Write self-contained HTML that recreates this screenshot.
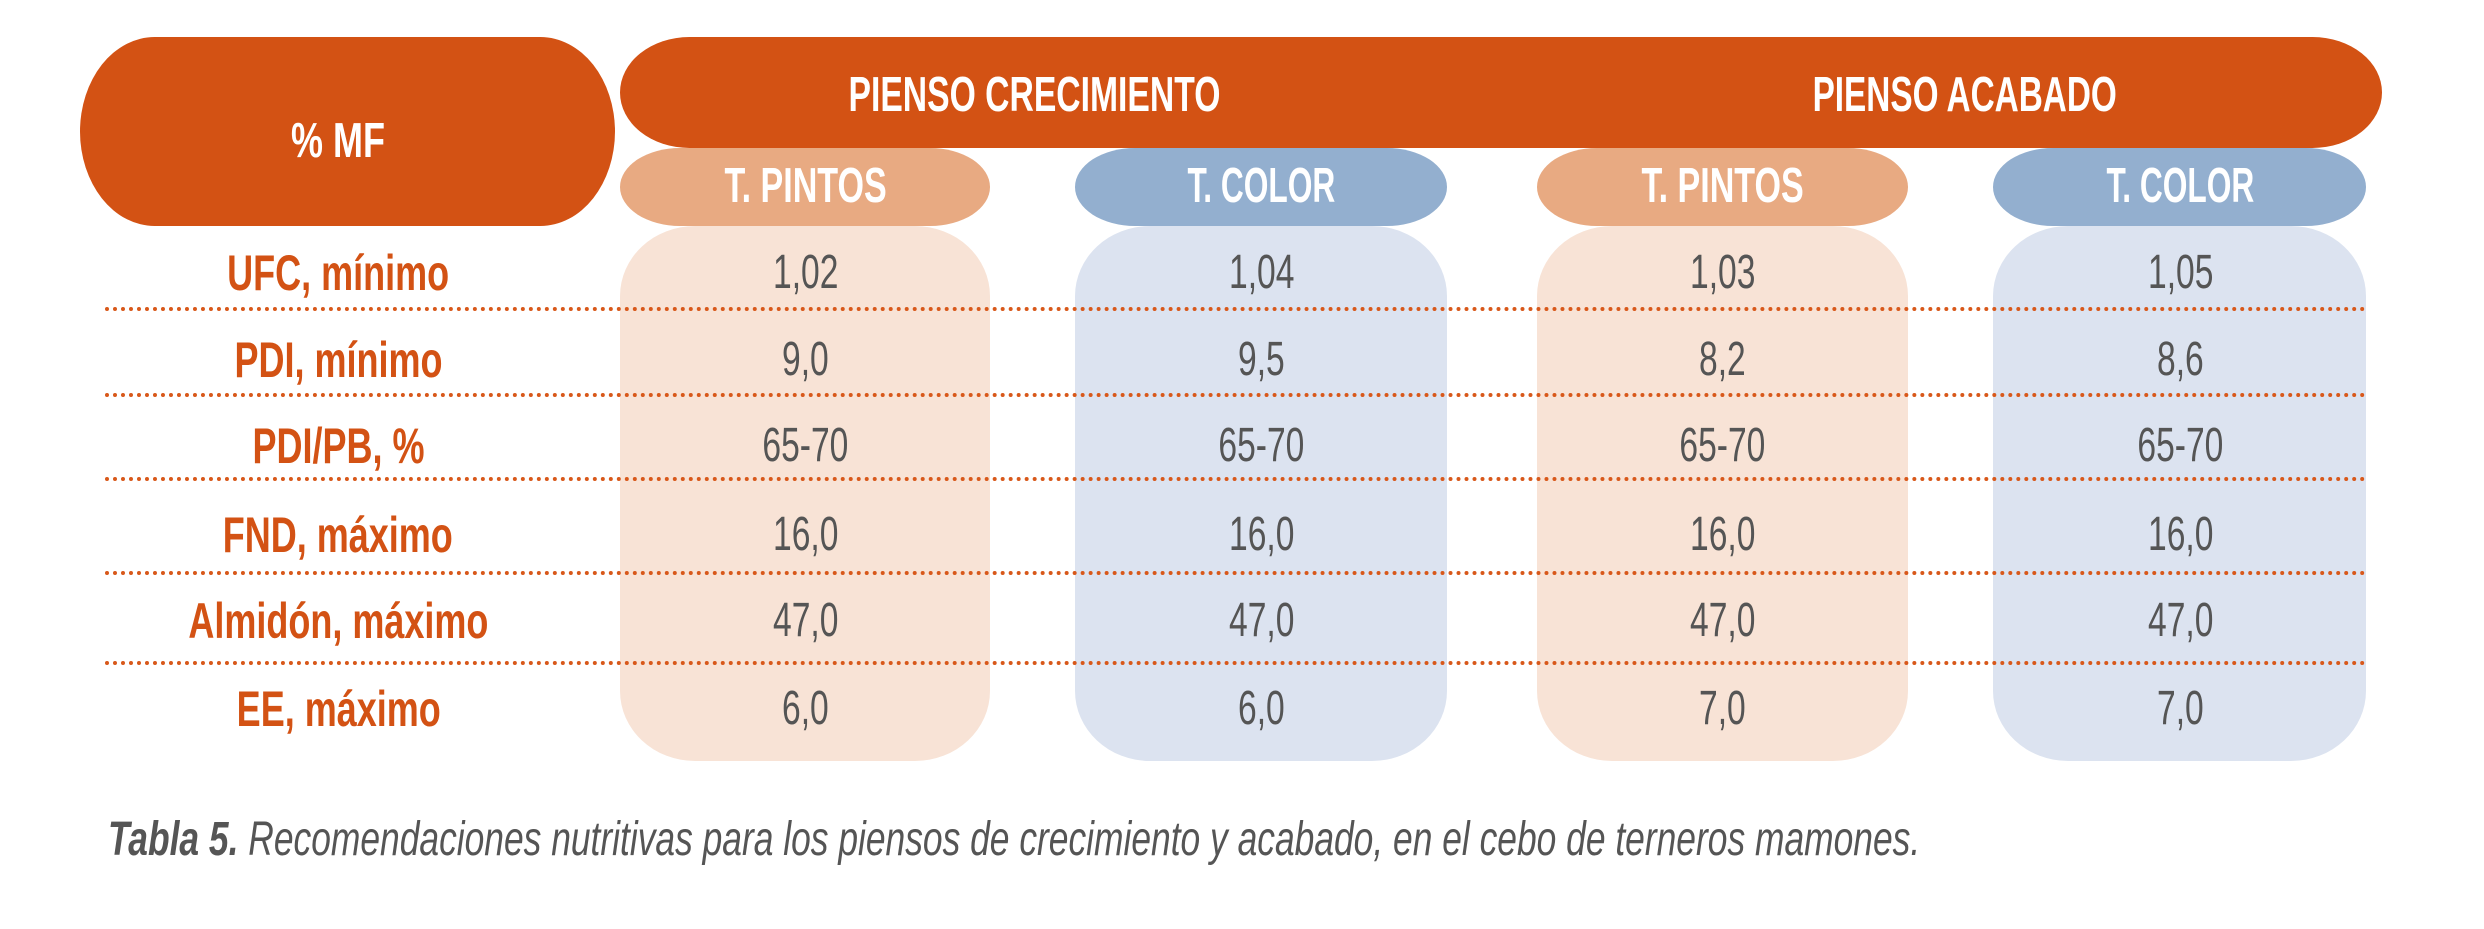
<!DOCTYPE html>
<html><head><meta charset="utf-8"><style>
html,body{margin:0;padding:0;background:#fff}
#root{position:relative;width:2484px;height:929px;overflow:hidden;font-family:"Liberation Sans",sans-serif}
.b{position:absolute}
.t{position:absolute;white-space:nowrap;line-height:1;transform-origin:center center}
.h{color:#fff;font-weight:bold;font-size:49px}
.l{color:#D35214;font-weight:bold;font-size:50px}
.v{color:#555;font-size:48px}
.dot{position:absolute;left:105px;width:2262px;height:0;border-top:4px dotted #D8581A}
</style></head><body>
<div id="root">
<div class="b" style="left:80px;top:37px;width:535px;height:189px;background:#D35214;border-radius:75px/95px"></div>
<div class="b" style="left:620px;top:37px;width:1762px;height:111px;background:#D35214;border-radius:70px/56px"></div>

<div class="b" style="left:620px;top:148px;width:370px;height:78px;background:#E8AA82;border-radius:60px/39px"></div>
<div class="b" style="left:1075px;top:148px;width:372px;height:78px;background:#93AFCF;border-radius:60px/39px"></div>
<div class="b" style="left:1537px;top:148px;width:371px;height:78px;background:#E8AA82;border-radius:60px/39px"></div>
<div class="b" style="left:1993px;top:148px;width:373px;height:78px;background:#93AFCF;border-radius:60px/39px"></div>

<div class="b" style="left:620px;top:226px;width:370px;height:535px;background:#F8E3D6;border-radius:75px/70px"></div>
<div class="b" style="left:1075px;top:226px;width:372px;height:535px;background:#DCE3F0;border-radius:75px/70px"></div>
<div class="b" style="left:1537px;top:226px;width:371px;height:535px;background:#F8E3D6;border-radius:75px/70px"></div>
<div class="b" style="left:1993px;top:226px;width:373px;height:535px;background:#DCE3F0;border-radius:75px/70px"></div>

<div class="dot" style="top:307px"></div>
<div class="dot" style="top:393px"></div>
<div class="dot" style="top:477px"></div>
<div class="dot" style="top:571px"></div>
<div class="dot" style="top:661px"></div>

<div class="t h" data-cx="338" data-cy="138" data-w="94">% MF</div>
<div class="t h" data-cx="1034" data-cy="92" data-w="372">PIENSO CRECIMIENTO</div>
<div class="t h" data-cx="1964" data-cy="92" data-w="304">PIENSO ACABADO</div>
<div class="t h" data-cx="805" data-cy="183" data-w="162">T. PINTOS</div>
<div class="t h" data-cx="1261" data-cy="183" data-w="148">T. COLOR</div>
<div class="t h" data-cx="1722" data-cy="183" data-w="162">T. PINTOS</div>
<div class="t h" data-cx="2180" data-cy="183" data-w="148">T. COLOR</div>

<div id="rows"></div>

<div class="t" id="caption" style="color:#555;font-size:48px;font-style:italic;transform-origin:left center"><b>Tabla 5.</b> Recomendaciones nutritivas para los piensos de crecimiento y acabado, en el cebo de terneros mamones.</div>
</div>
<script>
const rowLabels=["UFC, mínimo","PDI, mínimo","PDI/PB, %","FND, máximo","Almidón, máximo","EE, máximo"];
const col1=["1,02","9,0","65-70","16,0","47,0","6,0"];
const col2=["1,04","9,5","65-70","16,0","47,0","6,0"];
const col3=["1,03","8,2","65-70","16,0","47,0","7,0"];
const col4=["1,05","8,6","65-70","16,0","47,0","7,0"];
const root=document.getElementById('root');
const rowY=[270,357,443,532,618,706];
const colX=[805,1261,1722,2180];
const cols=[col1,col2,col3,col4];
rowLabels.forEach((lab,i)=>{
  const d=document.createElement('div');
  d.className='t l';d.textContent=lab;
  
  
  d.dataset.cx=338;d.dataset.cy=rowY[i];d.dataset.s=0.72;
  root.appendChild(d);
  cols.forEach((c,j)=>{
    const v=document.createElement('div');
    v.className='t v';v.textContent=c[i];
    
    
    v.dataset.cx=colX[j];v.dataset.cy=rowY[i];v.dataset.s=0.7;
    root.appendChild(v);
  });
});
document.querySelectorAll('.t[data-cx]').forEach(el=>{
  const w=el.offsetWidth,h=el.offsetHeight;
  const s=el.dataset.w?(+el.dataset.w/w):(+el.dataset.s||1);
  el.style.left=(el.dataset.cx-w/2)+'px';
  el.style.top=(el.dataset.cy-h/2+3)+'px';
  el.style.transform='scaleX('+s+')';
});
const cap=document.getElementById('caption');
cap.style.left='108px';cap.style.top=(840-cap.offsetHeight/2)+'px';
cap.style.transform='scaleX('+(1812/cap.offsetWidth)+')';
</script>
</body></html>
